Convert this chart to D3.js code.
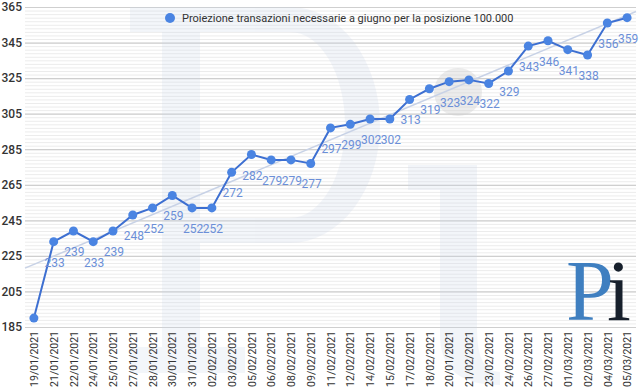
<!DOCTYPE html>
<html>
<head>
<meta charset="utf-8">
<script src="https://cdn.jsdelivr.net/npm/d3@7"></script>
<style>
  body { margin: 0; background: #fff; }
  svg { display: block; font-family: Roboto, sans-serif; }
</style>
</head>
<body>
<div class="canvas"></div>
<script>
// data
const dates = ['19/01/2021','21/01/2021','22/01/2021','24/01/2021','25/01/2021','27/01/2021',
  '28/01/2021','30/01/2021','31/01/2021','02/02/2021','03/02/2021','05/02/2021','06/02/2021',
  '08/02/2021','09/02/2021','11/02/2021','12/02/2021','14/02/2021','15/02/2021','17/02/2021',
  '18/02/2021','20/01/2021','21/02/2021','23/02/2021','24/02/2021','26/02/2021','27/02/2021',
  '01/03/2021','02/03/2021','04/03/2021','05/03/2021'];
const values = [190,233,239,233,239,248,252,259,252,252,272,282,279,279,277,297,299,302,302,313,
  319,323,324,322,329,343,346,341,338,356,359];
const yTicks = [185,205,225,245,265,285,305,325,345,365];
const seriesName = 'Proiezione transazioni necessarie a giugno per la posizione 100.000';

const width = 640, height = 387;
const plot = {left: 25, right: 636, top: 7, bottom: 327};

const svg = d3.select('.canvas').append('svg')
    .attr('width', width).attr('height', height);

const x = d3.scalePoint().domain(dates).range([plot.left, plot.right]).padding(0.45);
const y = d3.scaleLinear().domain([185, 365]).range([plot.bottom, plot.top]);

// minor grid
const minor = d3.range(185, 366, 2);
svg.append('g').selectAll('line').data(minor).join('line')
    .attr('x1', plot.left).attr('x2', plot.right)
    .attr('y1', d => y(d) + 0.5).attr('y2', d => y(d) + 0.5)
    .attr('stroke', '#ececec').attr('stroke-width', 1);

// major grid
svg.append('g').selectAll('line').data(yTicks).join('line')
    .attr('x1', plot.left).attr('x2', plot.right)
    .attr('y1', d => y(d) + 0.5).attr('y2', d => y(d) + 0.5)
    .attr('stroke', '#cfcfcf').attr('stroke-width', 1.2);

// watermark "Pi"
const wm = svg.append('g').attr('fill', '#c9d4e8').attr('opacity', 0.22);
wm.append('path').attr('fill-rule', 'evenodd').attr('d',
  'M130,7 H290 A90,118 0 0 1 290,243 H200 V347 H245 V373 H130 V347 H162 V32 H130 Z' +
  'M200,32 V218 H290 A55,93 0 0 0 290,32 Z');
wm.append('path').attr('d',
  'M408,165 H477 V330 Q477,372 500,372 V385 Q440,385 440,335 V190 H408 Z');
svg.append('circle').attr('cx', 458).attr('cy', 92).attr('r', 24)
    .attr('fill', '#cfcfcf').attr('opacity', 0.4);

// y axis labels
const yAxis = d3.axisLeft(y).tickValues(yTicks).tickSize(0).tickPadding(3);
svg.append('g').attr('transform', `translate(${plot.left},0)`).call(yAxis)
    .call(g => g.select('.domain').remove())
    .call(g => g.selectAll('text').attr('font-family', 'Roboto').attr('font-size', 12)
        .attr('font-weight', 500).attr('fill', '#333'));

// x axis labels
const xAxis = d3.axisBottom(x).tickSize(0).tickPadding(0);
svg.append('g').attr('transform', `translate(0,${plot.bottom})`).call(xAxis)
    .call(g => g.select('.domain').remove())
    .call(g => g.selectAll('text').attr('font-family', 'Roboto').attr('font-size', 10.5)
        .attr('fill', '#333').attr('text-anchor', 'end')
        .attr('transform', 'rotate(-90)').attr('dx', -4).attr('dy', '0.35em').attr('x', 0).attr('y', 0));

// linear trend
const idx = values.map((d, i) => i);
const mx = d3.mean(idx), my = d3.mean(values);
const slope = d3.sum(idx, i => (i - mx) * (values[i] - my)) / d3.sum(idx, i => (i - mx) * (i - mx));
const icpt = my - slope * mx;
const step = x.step();
const x0 = x(dates[0]);
const tAt = px => icpt + slope * (px - x0) / step;
svg.append('line')
    .attr('x1', plot.left).attr('y1', y(tAt(plot.left)))
    .attr('x2', plot.right).attr('y2', y(tAt(plot.right)))
    .attr('stroke', '#c8d2e6').attr('stroke-width', 1.5);

// series line
svg.append('path').datum(values)
    .attr('fill', 'none').attr('stroke', '#3d6fd1').attr('stroke-width', 2)
    .attr('d', d3.line().x((d, i) => x(dates[i])).y(d => y(d)));

svg.append('g').selectAll('circle').data(values).join('circle')
    .attr('cx', (d, i) => x(dates[i])).attr('cy', d => y(d)).attr('r', 4.5)
    .attr('fill', '#4a84e2');

// value labels (first point has none)
svg.append('g').selectAll('text').data(values.slice(1)).join('text')
    .attr('x', (d, i) => x(dates[i + 1]) + 1).attr('y', d => y(d) + 25)
    .attr('text-anchor', 'middle').attr('font-family', 'Roboto').attr('font-size', 12)
    .attr('fill', '#6b8fd8').text(d => d);

// legend
svg.append('circle').attr('cx', 170).attr('cy', 18).attr('r', 5).attr('fill', '#4a84e2');
svg.append('text').attr('x', 182).attr('y', 22).attr('font-family', 'Roboto')
    .attr('font-size', 11).attr('fill', '#333').text(seriesName);

// logo
const logo = svg.append('g').attr('font-family', 'Liberation Serif');
logo.append('text').attr('x', 566).attr('y', 320).attr('font-size', 86)
    .attr('fill', '#3f7fc0').text('P');
logo.append('text').attr('x', 607).attr('y', 320).attr('font-size', 86)
    .attr('fill', '#17202c').text('i');
</script>
</body>
</html>
